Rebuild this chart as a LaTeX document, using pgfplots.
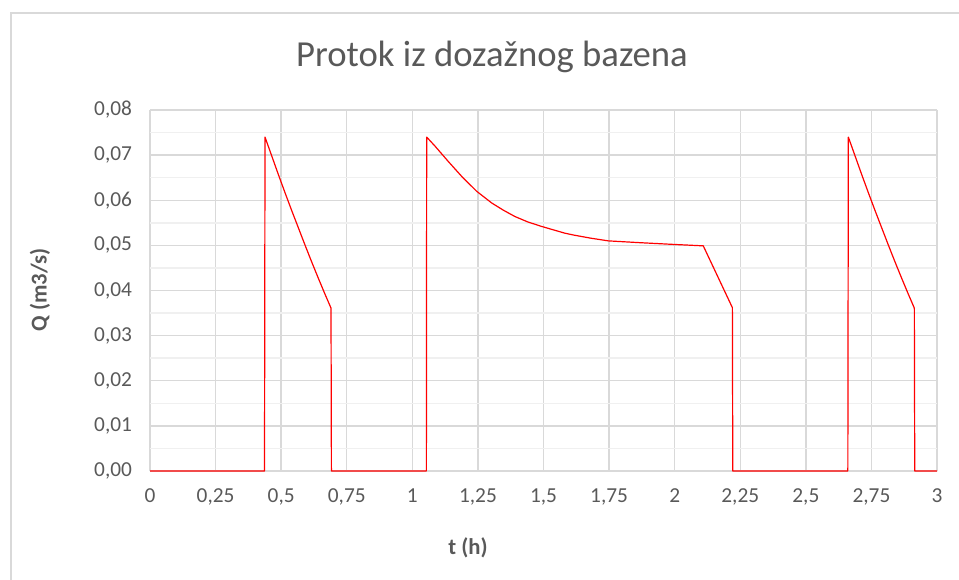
\documentclass[border=0pt]{standalone}
\usepackage{pgfplots}
\pgfplotsset{compat=1.18}
\usepackage{pgfplotstable}
\usepackage{fontspec}
\setmainfont{Carlito}
\definecolor{txt}{HTML}{595959}
\definecolor{gmaj}{HTML}{D9D9D9}
\definecolor{gmin}{HTML}{F0F0F0}
\definecolor{frame}{HTML}{D9D9D9}
\pgfplotstableread{
t Q
0 0
0.4365 0
0.4384 0.0740
0.4636 0.0699
0.4887 0.0658
0.5139 0.0618
0.5390 0.0579
0.5642 0.0541
0.5894 0.0503
0.6145 0.0466
0.6397 0.0430
0.6648 0.0395
0.6900 0.0361
0.6915 0
1.0535 0
1.0547 0.0740
1.0864 0.0720
1.1370 0.0686
1.1880 0.0653
1.2450 0.0620
1.3025 0.0594
1.3470 0.0578
1.3910 0.0564
1.4400 0.0552
1.4930 0.0542
1.5400 0.0534
1.5820 0.0527
1.6140 0.0523
1.6800 0.0516
1.7470 0.0510
1.8680 0.0506
2.0010 0.0502
2.1090 0.0499
2.2200 0.0362
2.2215 0
2.6601 0
2.6620 0.0740
2.6872 0.0699
2.7123 0.0658
2.7375 0.0618
2.7626 0.0579
2.7878 0.0541
2.8130 0.0503
2.8381 0.0466
2.8633 0.0430
2.8884 0.0395
2.9136 0.0361
2.9151 0
3 0
}\dataQ
\begin{document}
\begin{tikzpicture}
\useasboundingbox (0pt,0pt) rectangle (719.25pt,-434.25pt);
\draw[frame,line width=1.2pt] (8.25pt,-450pt) -- (8.25pt,-9.75pt) -- (740pt,-9.75pt);
\node[txt,font=\fontsize{27.5}{33}\selectfont] at (369pt,-42.75pt) {Protok iz dozažnog bazena};
\node[txt,font=\bfseries\fontsize{17}{20}\selectfont, rotate=90] at (30pt,-217.5pt) {Q (m3/s)};
\node[txt,font=\bfseries\fontsize{17}{20}\selectfont] at (351pt,-411pt) {t (h)};
\begin{axis}[
  at={(112.5pt,-353.25pt)}, anchor=south west,
  scale only axis, width=590.25pt, height=270.75pt,
  xmin=0, xmax=3, ymin=0, ymax=0.08,
  scaled y ticks=false, scaled x ticks=false,
  xtick={0,0.25,0.5,0.75,1,1.25,1.5,1.75,2,2.25,2.5,2.75,3},
  xticklabels={0,{0,25},{0,5},{0,75},1,{1,25},{1,5},{1,75},2,{2,25},{2,5},{2,75},3},
  ytick={0,0.01,0.02,0.03,0.04,0.05,0.06,0.07,0.08},
  yticklabels={{0,00},{0,01},{0,02},{0,03},{0,04},{0,05},{0,06},{0,07},{0,08}},
  minor ytick={0.005,0.015,0.025,0.035,0.045,0.055,0.065,0.075},
  grid=both,
  major grid style={gmaj, line width=1.1pt},
  minor grid style={gmin, line width=1.1pt},
  axis line style={draw=none},
  major tick length=0pt, minor tick length=0pt,
  tick label style={txt, font=\fontsize{16}{19}\selectfont},
  xticklabel style={yshift=-10pt},
  yticklabel style={xshift=-10pt},
  clip=false,
]
\addplot[gmaj, line width=1.1pt, forget plot] coordinates {(0,0) (3,0)};
\addplot[red, line width=0.9pt, line join=round] table[x=t,y=Q] {\dataQ};
\end{axis}
\end{tikzpicture}
\end{document}
